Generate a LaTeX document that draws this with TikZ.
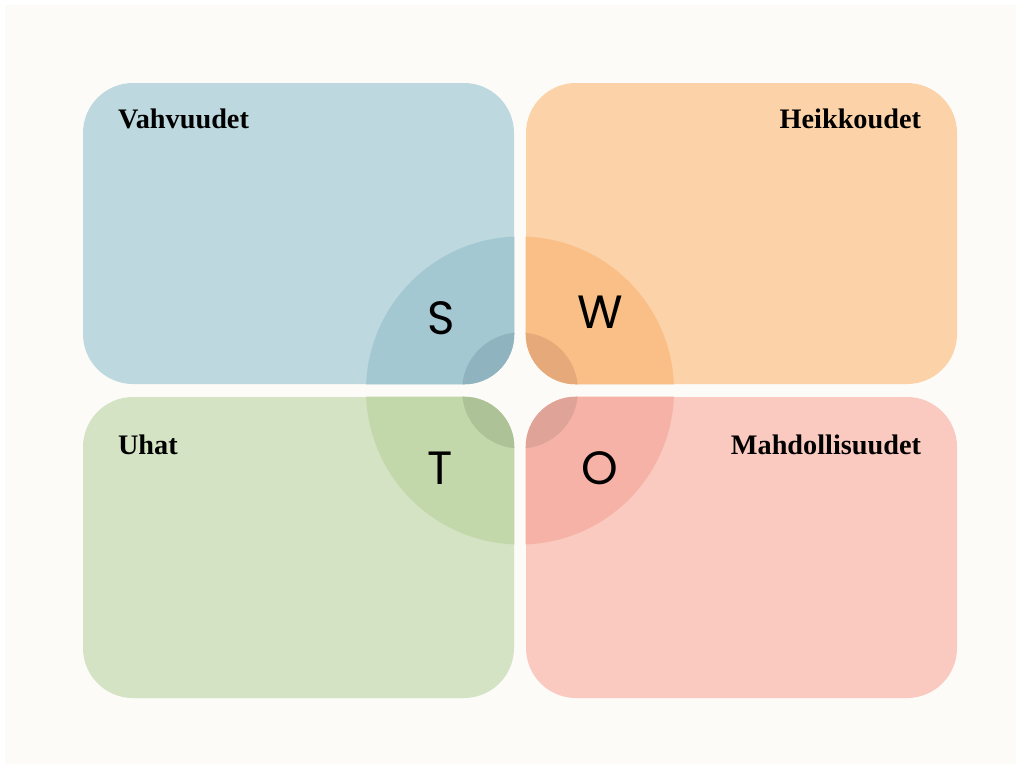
\documentclass[tikz,border=0pt]{standalone}
\usepackage{fontspec}
\setmainfont{Liberation Serif}
\newfontfamily\swotfont{Poppins}
\usepackage{xcolor}
\usepackage{tikz}
\usetikzlibrary{positioning}

\definecolor{pagebg}{HTML}{FCFBF7}
\definecolor{sbox}{HTML}{BDD8DE}
\definecolor{scirc}{HTML}{A4C8D2}
\definecolor{sinner}{HTML}{90B4BF}
\definecolor{wbox}{HTML}{FCD2A9}
\definecolor{wcirc}{HTML}{FABF87}
\definecolor{winner}{HTML}{E6A97A}
\definecolor{tbox}{HTML}{D5E3C5}
\definecolor{tcirc}{HTML}{C2D8AA}
\definecolor{tinner}{HTML}{AEC298}
\definecolor{obox}{HTML}{FAC9C0}
\definecolor{ocirc}{HTML}{F6B2A6}
\definecolor{oinner}{HTML}{DFA398}

\begin{document}
\begin{tikzpicture}[
  x=0.75pt, y=-0.75pt,
  quad/.style={rectangle, rounded corners=37.5pt, minimum width=323.25pt, minimum height=225.75pt, inner sep=0pt},
  heading/.style={font=\fontsize{21.2}{25}\selectfont\bfseries, inner sep=0pt},
  letter/.style={font=\swotfont\fontsize{35}{40}\selectfont, inner sep=0pt}
]

% Page
\useasboundingbox (0,0) rectangle (1021,769);
\fill[white] (0,0) rectangle (1021,769);
\fill[pagebg] (5,5) rectangle (1016,764);

% Quadrants
\node[quad, fill=sbox] (str) at (298.5,233.5) {};
\node[quad, fill=wbox] (wea) at (741.5,233.5) {};
\node[quad, fill=tbox] (thr) at (298.5,547.5) {};
\node[quad, fill=obox] (opp) at (741.5,547.5) {};

\coordinate (mid) at (520,390.5);

% Circles, clipped to each quadrant
\foreach \q/\outer/\inner in {str/scirc/sinner, wea/wcirc/winner, thr/tcirc/tinner, opp/ocirc/oinner}{
  \begin{scope}
    \clip[rounded corners=37.5pt] (\q.south west) rectangle (\q.north east);
    \fill[\outer] (mid) circle[radius=115.5pt];
    \fill[\inner] (mid) circle[radius=43.5pt];
  \end{scope}
}

% Headings
\node[heading, anchor=base west] (strhead) at ([shift={(35,46)}]str.north west) {Vahvuudet};
\node[heading, anchor=base east] (weahead) at ([shift={(-36,46)}]wea.north east) {Heikkoudet};
\node[heading, anchor=base west] (thrhead) at ([shift={(35,58)}]thr.north west) {Uhat};
\node[heading, anchor=base east] (opphead) at ([shift={(-36,58)}]opp.north east) {Mahdollisuudet};

% Letters
\node[letter] (sl) at (441,318) {S};
\node[letter] (wl) at (600,312) {W};
\node[letter] (tl) at (440,468) {T};
\node[letter] (ol) at (600,468) {O};

\end{tikzpicture}
\end{document}
